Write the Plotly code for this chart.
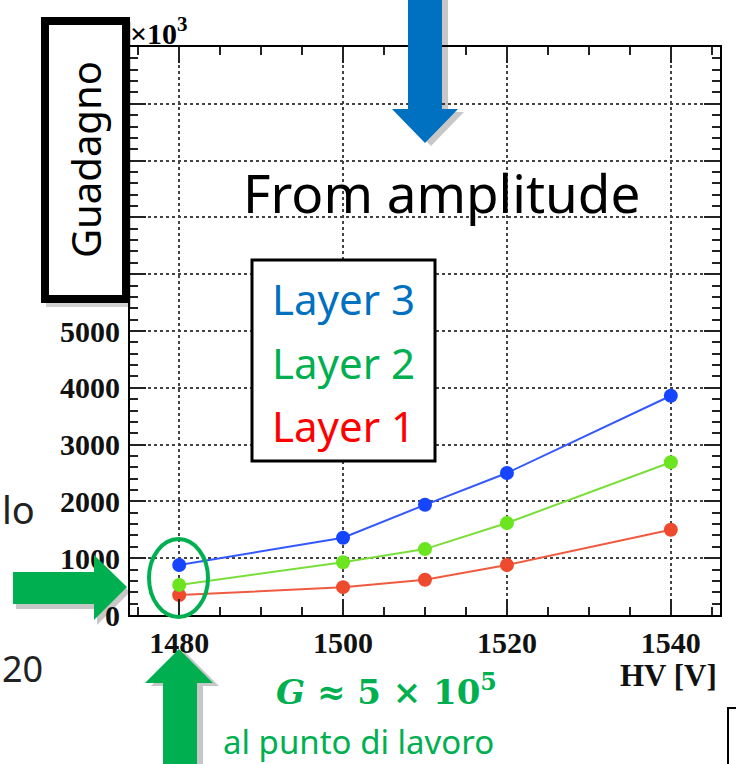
import plotly.graph_objects as go

# ---------------- data ----------------
hv = [1480, 1500, 1510, 1520, 1540]
layer1 = [350, 490, 620, 880, 1500]
layer2 = [530, 930, 1160, 1620, 2690]
layer3 = [880, 1360, 1940, 2500, 3860]

x_tick_vals = [1480, 1500, 1520, 1540]
y_tick_vals = [0, 1000, 2000, 3000, 4000, 5000, 6000, 7000, 8000, 9000, 10000]
y_tick_text = ["0", "1000", "2000", "3000", "4000", "5000", "", "", "", "", ""]

# ---------------- geometry helpers (pixel -> paper) ----------------
L, R, T, B = 130, 720, 47, 615
W, H = 736, 764


def px(x):
    return (x - L) / (R - L)


def py(y):
    return (B - y) / (B - T)


def path(points):
    s = "M " + " L ".join(f"{px(x):.5f},{py(y):.5f}" for x, y in points) + " Z"
    return s


fig = go.Figure()

series = [
    ("Layer 1", layer1, "#ee4a2e", "#ef5a40"),
    ("Layer 2", layer2, "#6be51f", "#7ade3a"),
    ("Layer 3", layer3, "#1545ff", "#3358ff"),
]
for name, ys, mcol, lcol in series:
    fig.add_trace(go.Scatter(
        x=hv, y=ys, mode="lines+markers", name=name,
        line=dict(color=lcol, width=2),
        marker=dict(color=mcol, size=14, symbol="circle"),
        showlegend=False,
    ))

axis_common = dict(
    showline=True, linecolor="black", linewidth=2, mirror="allticks",
    ticks="inside", ticklen=16, tickwidth=2, tickcolor="#222",
    showgrid=True, gridcolor="#444", gridwidth=1.5, griddash="dot",
    zeroline=False,
    tickfont=dict(family="Liberation Serif", size=30, color="#111", weight="bold"),
)

fig.update_xaxes(
    range=[1474, 1546], tickvals=x_tick_vals,
    minor=dict(dtick=5, tick0=1475, ticks="inside", ticklen=8, tickwidth=1.5, tickcolor="#222", showgrid=False),
    **axis_common,
)
fig.update_yaxes(
    range=[0, 10000], tickvals=y_tick_vals, ticktext=y_tick_text,
    minor=dict(dtick=200, tick0=0, ticks="inside", ticklen=8, tickwidth=1.5, tickcolor="#222", showgrid=False),
    ticklabelstandoff=2,
    **axis_common,
)

green = "#00B050"
blue = "#0070C0"
shadow = "rgba(0,0,0,0.22)"

shapes = []


def arrow(points, color, dx=5, dy=4):
    sh = [(x + dx, y + dy) for x, y in points]
    shapes.append(dict(type="path", xref="paper", yref="paper", path=path(sh),
                       fillcolor=shadow, line=dict(width=0), layer="above"))
    shapes.append(dict(type="path", xref="paper", yref="paper", path=path(points),
                       fillcolor=color, line=dict(width=0), layer="above"))


# blue arrow pointing down (top)
arrow([(408, -5), (442, -5), (442, 109), (458, 109), (425, 143), (392, 109), (408, 109)], blue, 6, 3)
# green arrow pointing right (left)
arrow([(13, 572), (94, 572), (94, 555), (127, 587), (94, 620), (94, 604), (13, 604)], green, 3, 5)
# green arrow pointing up (bottom)
arrow([(163, 770), (163, 683), (145, 683), (179, 649), (213, 683), (197, 683), (197, 770)], green, 6, 3)

# Guadagno box (with shadow)
shapes.append(dict(type="rect", xref="paper", yref="paper",
                   x0=px(46), x1=px(131), y0=py(307), y1=py(22),
                   fillcolor="rgba(0,0,0,0.18)", line=dict(width=0), layer="above"))
shapes.append(dict(type="rect", xref="paper", yref="paper",
                   x0=px(45), x1=px(126), y0=py(299), y1=py(21),
                   fillcolor="white", line=dict(color="black", width=8), layer="above"))

# legend-like box
shapes.append(dict(type="rect", xref="paper", yref="paper",
                   x0=px(252), x1=px(435), y0=py(461), y1=py(260),
                   fillcolor="white", line=dict(color="black", width=3), layer="above"))

# green ellipse around working point
shapes.append(dict(type="circle", xref="paper", yref="paper",
                   x0=px(149), x1=px(208), y0=py(617), y1=py(539),
                   fillcolor="rgba(0,0,0,0)", line=dict(color=green, width=4), layer="above"))

# partial black box bottom-right
shapes.append(dict(type="rect", xref="paper", yref="paper",
                   x0=px(728), x1=px(760), y0=py(790), y1=py(708),
                   fillcolor="rgba(0,0,0,0)", line=dict(color="black", width=2), layer="above"))

fig.update_layout(shapes=shapes)

ann = []


def text(x, y, s, size, color="black", family="Noto Sans", xanchor="center", yanchor="middle", angle=0, weight=None):
    f = dict(family=family, size=size, color=color)
    if weight:
        f["weight"] = weight
    ann.append(dict(xref="paper", yref="paper", x=px(x), y=py(y), text=s, showarrow=False,
                    xanchor=xanchor, yanchor=yanchor, textangle=angle, font=f))


text(85, 160, "Guadagno", 40, angle=-90)
text(128, 31, "<b>×10<sup>3</sup></b>", 30, family="Liberation Serif", xanchor="left")
text(441, 192, "From amplitude", 53)
text(343, 298, "Layer 3", 42, color=blue)
text(343, 362, "Layer 2", 42, color=green)
text(343, 425, "Layer 1", 42, color="#FF0000")
text(668, 675, "<b>HV [V]</b>", 31, family="Liberation Serif", color="#111")
text(386, 690, "<b><i>G</i> ≈ 5 × 10<sup>5</sup></b>", 34, family="DejaVu Serif", color=green)
text(358, 741, "al punto di lavoro", 33, color=green)
text(0, 509, "lo", 38, color="#222", xanchor="left")
text(0, 668, "20", 36, color="#222", xanchor="left")

fig.update_layout(
    annotations=ann,
    width=W, height=H, autosize=False,
    margin=dict(l=L, r=W - R, t=T, b=H - B),
    paper_bgcolor="white", plot_bgcolor="white",
)

fig.write_html("out.html", config={"displayModeBar": False},
               post_script="document.body.style.margin='0px';document.body.style.overflow='hidden';")
